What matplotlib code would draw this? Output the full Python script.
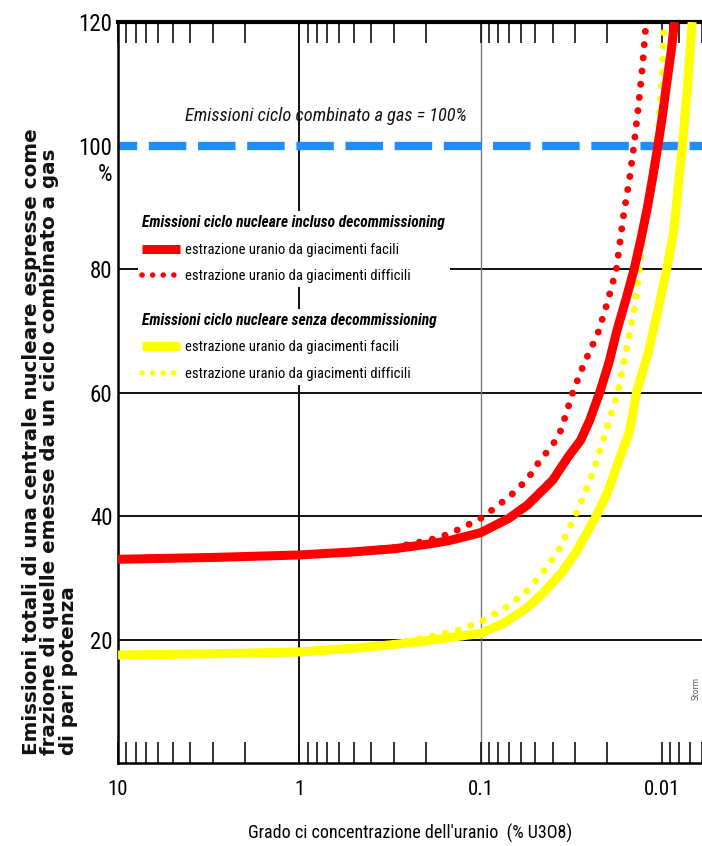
import matplotlib
matplotlib.use('Agg')
import matplotlib.pyplot as plt
from matplotlib.lines import Line2D
from matplotlib.ticker import FixedLocator, FixedFormatter, LogLocator, NullFormatter
import matplotlib.transforms as mtransforms

NARROW = ['Roboto Condensed', 'Liberation Sans', 'DejaVu Sans']

# grado di concentrazione (% U3O8) -> emissioni (% del ciclo combinato a gas)
grado_facili_dec = [10, 3, 1, 0.5, 0.3, 0.2, 0.15, 0.1, 0.07, 0.055, 0.04, 0.033,
                    0.028, 0.025, 0.022, 0.0195, 0.0177, 0.0158, 0.0142, 0.013,
                    0.012, 0.0112, 0.0105, 0.0099, 0.0094, 0.0089, 0.0085]
emis_facili_dec = [33.0, 33.3, 33.7, 34.2, 34.7, 35.4, 36.0, 37.3, 39.6, 41.8, 45.8, 49.5,
                   52.3, 55.5, 60.0, 65.0, 70.0, 75.0, 80.0, 85.0,
                   90.0, 95.0, 100.0, 105.0, 110.0, 115.0, 120.0]

grado_difficili_dec = [0.5, 0.3, 0.2, 0.166, 0.13, 0.1, 0.08, 0.066, 0.055, 0.047, 0.04,
                       0.036, 0.031, 0.027, 0.0225, 0.02, 0.0178, 0.0162, 0.015,
                       0.0142, 0.0135, 0.0128, 0.0122]
emis_difficili_dec = [34.3, 34.9, 36.0, 36.6, 37.9, 39.6, 41.7, 43.7, 46.0, 49.0, 51.5,
                      53.9, 60.0, 64.5, 69.6, 74.5, 80.0, 89.0, 95.0,
                      100.3, 106.0, 112.6, 120.0]

grado_facili_senza = [10, 3, 1, 0.5, 0.3, 0.2, 0.15, 0.1, 0.075, 0.055, 0.045, 0.036,
                      0.03, 0.026, 0.023, 0.02, 0.0175, 0.015, 0.0138, 0.012,
                      0.0105, 0.0094, 0.0086, 0.0077, 0.0072, 0.0068]
emis_facili_senza = [17.5, 17.7, 18.0, 18.6, 19.2, 19.8, 20.3, 21.0, 22.6, 25.2, 27.6, 30.7,
                     34.0, 37.2, 40.0, 43.7, 48.5, 53.9, 60.0, 66.0,
                     73.3, 80.0, 86.0, 100.0, 110.0, 120.0]

grado_difficili_senza = [0.5, 0.3, 0.2, 0.13, 0.096, 0.07, 0.055, 0.045, 0.037, 0.029,
                         0.024, 0.02, 0.0175, 0.0158, 0.0142, 0.0133, 0.0126, 0.0115,
                         0.0105, 0.0099, 0.0097]
emis_difficili_senza = [18.7, 19.4, 20.3, 21.6, 23.1, 25.5, 28.0, 31.0, 34.5, 41.0,
                        47.0, 54.4, 60.0, 66.5, 73.3, 80.0, 86.2, 94.0,
                        102.0, 112.6, 120.0]

riferimento_gas = 100
griglia_y = [20, 40, 60, 80]
tick_y = [20, 40, 60, 80, 100, 120]
tick_x = [10, 1, 0.1, 0.01]
etichette_x = ['10', '1', '0.1', '0.01']

ROSSO = '#ff0000'
GIALLO = '#ffff00'
BLU = '#1e8fff'

fig = plt.figure(figsize=(7.02, 8.46), dpi=100)
ax = fig.add_axes([0.168, 0.098, 0.832, 0.876])

ax.set_xscale('log')
ax.set_xlim(10, 0.006)
ax.set_ylim(0, 120)

# griglia
for yv in griglia_y:
    ax.axhline(yv, color='#111111', lw=1.4, zorder=1)
ax.axvline(1, color='#111111', lw=1.4, zorder=1)
ax.axvline(0.1, color='#777777', lw=1.0, zorder=1)

# linea di riferimento del gas
ax.axhline(riferimento_gas, color=BLU, lw=6, linestyle=(2.2, (4.5, 1.4)),
           dash_capstyle='butt', zorder=2)

dotted = (0, (0.01, 1.9))
ax.plot(grado_difficili_dec, emis_difficili_dec, color=ROSSO, lw=5,
        linestyle=dotted, dash_capstyle='round', zorder=3)
ax.plot(grado_difficili_senza, emis_difficili_senza, color=GIALLO, lw=5,
        linestyle=dotted, dash_capstyle='round', zorder=3)
ax.plot(grado_facili_dec, emis_facili_dec, color=ROSSO, lw=6.5,
        solid_capstyle='butt', zorder=4)
ax.plot(grado_facili_senza, emis_facili_senza, color=GIALLO, lw=6.5,
        solid_capstyle='butt', zorder=4)

ax.text(0.356, 104.7, 'Emissioni ciclo combinato a gas = 100%', family=NARROW,
        style='italic', fontsize=13.2, ha='center', va='center', color='#111111',
        transform=mtransforms.blended_transform_factory(ax.transAxes, ax.transData))

# assi
for s in ['left', 'bottom']:
    ax.spines[s].set_linewidth(1.8)
ax.spines['top'].set_linewidth(3)
ax.spines['right'].set_visible(False)

ax.xaxis.set_major_locator(FixedLocator(tick_x))
ax.xaxis.set_major_formatter(FixedFormatter(etichette_x))
ax.xaxis.set_minor_locator(LogLocator(base=10, subs=range(2, 10), numticks=20))
ax.xaxis.set_minor_formatter(NullFormatter())
ax.tick_params(axis='x', which='both', direction='in', top=True, bottom=True,
               length=15, width=1.2, color='#111111', pad=12)
ax.tick_params(axis='x', which='major', labelsize=15)
for lab in ax.get_xticklabels():
    lab.set_family(NARROW)

ax.set_yticks(tick_y)
ax.set_yticklabels([str(v) for v in tick_y])
ax.tick_params(axis='y', length=0, pad=4, labelsize=16.5)
for lab in ax.get_yticklabels():
    lab.set_family(NARROW)

trans = mtransforms.blended_transform_factory(ax.transAxes, ax.transData)
ax.text(-0.01, 95.3, '%', transform=trans, family=NARROW, fontsize=16.5,
        ha='right', va='center')

ax.set_xlabel("Grado ci concentrazione dell'uranio  (% U3O8)", family=NARROW,
              fontsize=13, labelpad=18)

fig.text(22 / 702, 1 - 755 / 846,
         'Emissioni totali di una centrale nucleare espresse come\n'
         'frazione di quelle emesse da un ciclo combinato a gas\n'
         'di pari potenza',
         rotation=90, rotation_mode='anchor', ha='left', va='top',
         fontsize=14.3, fontweight='bold', family='DejaVu Sans',
         linespacing=0.95, color='#111111')

# legenda in due blocchi
h_rs = Line2D([], [], color=ROSSO, lw=6.5, solid_capstyle='butt')
h_rd = Line2D([], [], color=ROSSO, lw=4, linestyle=(0, (0.01, 1.9)), dash_capstyle='round')
h_ys = Line2D([], [], color=GIALLO, lw=6.5, solid_capstyle='butt')
h_yd = Line2D([], [], color=GIALLO, lw=4, linestyle=(0, (0.01, 1.9)), dash_capstyle='round')

leg_kw = dict(loc='upper left', frameon=True, facecolor='white', edgecolor='none',
              framealpha=1, fancybox=False, borderpad=0.3, handlelength=2.6,
              handletextpad=0.3, labelspacing=0.85, alignment='left',
              prop={'family': NARROW, 'size': 10.5},
              title_fontproperties={'family': NARROW, 'size': 11.2,
                                    'style': 'italic', 'weight': 'bold'})
leg1 = ax.legend([h_rs, h_rd],
                 ['estrazione uranio da giacimenti facili',
                  'estrazione uranio da giacimenti difficili'],
                 title='Emissioni ciclo nucleare incluso decommissioning',
                 bbox_to_anchor=(0.022, 0.755), **leg_kw)
ax.add_artist(leg1)
ax.legend([h_ys, h_yd],
          ['estrazione uranio da giacimenti facili',
           'estrazione uranio da giacimenti difficili'],
          title='Emissioni ciclo nucleare senza decommissioning',
          bbox_to_anchor=(0.022, 0.623), **leg_kw)

ax.text(0.0065, 12, 'Storm', rotation=90, fontsize=5.5, color='#555555',
        ha='center', va='center')

fig.savefig('out.png', dpi=100)
